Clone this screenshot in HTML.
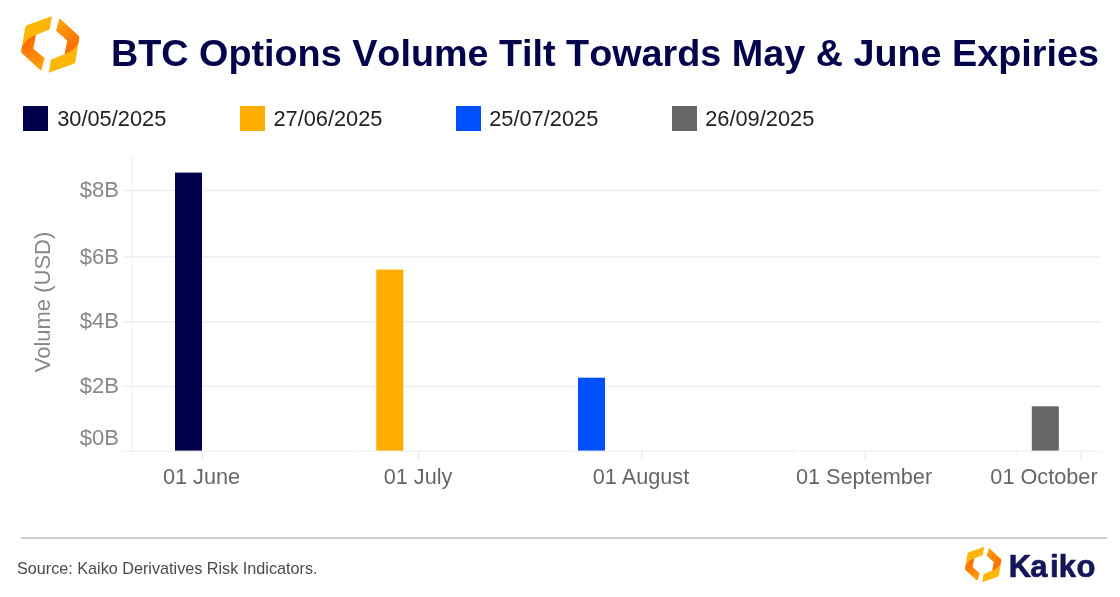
<!DOCTYPE html>
<html>
<head>
<meta charset="utf-8">
<title>BTC Options Volume Tilt Towards May &amp; June Expiries</title>
<style>
  html, body { margin: 0; padding: 0; background: #ffffff; }
  body { width: 1120px; height: 597px; position: relative; overflow: hidden;
         font-family: "Liberation Sans", Arial, Helvetica, sans-serif; }
  .abs { position: absolute; white-space: nowrap; line-height: 1; }
  #title { left: 111px; top: 34.5px; font-size: 37.75px; font-weight: bold; color: #04044c; letter-spacing: 0px; font-kerning: none; }
  .lg-sq { position: absolute; top: 105.8px; width: 25.3px; height: 25.3px; }
  .lg-tx { position: absolute; top: 106.5px; font-size: 21.8px; color: #222222; line-height: 24px; white-space: nowrap; }
  .ytick { position: absolute; left: 60px; width: 59px; text-align: right; font-size: 22px; color: #888888; line-height: 24px; }
  .xtick { position: absolute; top: 464.7px; font-size: 21.7px; color: #666666; line-height: 24px; white-space: nowrap; transform: translateX(-50%); }
  #ylabel { position: absolute; left: 42.5px; top: 301.9px; font-size: 22px; color: #888888; line-height: 24px; white-space: nowrap;
            transform: translate(-50%, -50%) rotate(-90deg); }
  #source { left: 17px; top: 560px; font-size: 16.2px; color: #4a4a4a; }
</style>
</head>
<body>

<!-- top-left logo -->
<svg class="abs" style="left:0;top:0" width="100" height="90" viewBox="0 0 100 90">
  <defs>
    <linearGradient id="gL" gradientUnits="userSpaceOnUse" x1="28" y1="40" x2="43" y2="66">
      <stop offset="0" stop-color="#ff6a00"/><stop offset="1" stop-color="#ff9f0c"/>
    </linearGradient>
    <linearGradient id="gR" gradientUnits="userSpaceOnUse" x1="57.5" y1="23" x2="72.5" y2="49">
      <stop offset="0" stop-color="#ff9f0c"/><stop offset="1" stop-color="#ff6a00"/>
    </linearGradient>
    <g id="klogo">
      <!-- left half -->
      <path d="M51.85,16.7 L49.8,29.4 L36.1,35.1 L33.4,48.4 L44.5,58.1 L41.1,70.2 L22.6,53.2 Q21.5,52.2 21.8,50.6 L25.6,27.6 Q25.9,25.8 27.6,25.2 Z" fill="#ffb60a"/>
      <path d="M36.1,35.1 Q28.5,37.5 22.6,46 L21.8,50.6 Q21.5,52.2 22.6,53.2 L41.1,70.2 L44.5,58.1 L33.4,48.4 Z" fill="url(#gL)"/>
      <!-- right half -->
      <path d="M48.75,72.3 L50.8,59.6 L64.5,53.9 L67.2,40.6 L56.1,30.9 L59.5,18.8 L78,35.8 Q79.1,36.8 78.8,38.4 L75,61.4 Q74.7,63.2 73,63.8 Z" fill="#ffb60a"/>
      <path d="M64.5,53.9 Q72.1,51.5 78,43 L78.8,38.4 Q79.1,36.8 78,35.8 L59.5,18.8 L56.1,30.9 L67.2,40.6 Z" fill="url(#gR)"/>
    </g>
  </defs>
  <g transform="translate(50.3,44.5) scale(1.015) translate(-50.3,-44.5)"><use href="#klogo"/></g>
</svg>

<div id="title" class="abs">BTC Options Volume Tilt Towards May &amp; June Expiries</div>

<!-- legend -->
<div class="lg-sq" style="left:23px;background:#00004b"></div><div class="lg-tx" style="left:57.2px">30/05/2025</div>
<div class="lg-sq" style="left:239.5px;background:#ffae00"></div><div class="lg-tx" style="left:273.4px">27/06/2025</div>
<div class="lg-sq" style="left:455.5px;background:#0050ff"></div><div class="lg-tx" style="left:489.2px">25/07/2025</div>
<div class="lg-sq" style="left:671.5px;background:#666666"></div><div class="lg-tx" style="left:705.2px">26/09/2025</div>

<!-- chart -->
<svg class="abs" style="left:0;top:0" width="1120" height="597" viewBox="0 0 1120 597">
  <g stroke="#eeeeee" stroke-width="1.5" fill="none">
    <line x1="122.5" y1="190.4" x2="1101" y2="190.4"/>
    <line x1="122.5" y1="256.9" x2="1101" y2="256.9"/>
    <line x1="122.5" y1="321.7" x2="1101" y2="321.7"/>
    <line x1="122.5" y1="386.6" x2="1101" y2="386.6"/>
  </g>
  <line x1="122.5" y1="451.3" x2="1101" y2="451.3" stroke="#efefef" stroke-width="1.1"/>
  <line x1="132" y1="157" x2="132" y2="455" stroke="#f1f1f1" stroke-width="1.2"/>
  <g stroke="#e8e8e8" stroke-width="1.2">
    <line x1="202.3" y1="451" x2="202.3" y2="459"/>
    <line x1="418.5" y1="451" x2="418.5" y2="459"/>
    <line x1="642" y1="451" x2="642" y2="459"/>
    <line x1="865.4" y1="451" x2="865.4" y2="459"/>
    <line x1="1081" y1="451" x2="1081" y2="459"/>
  </g>
  <g stroke="#f0f0f0" stroke-width="1">
    <line x1="353.7" y1="451" x2="353.7" y2="455"/>
    <line x1="569.8" y1="451" x2="569.8" y2="455"/>
    <line x1="793.3" y1="451" x2="793.3" y2="455"/>
    <line x1="1016.7" y1="451" x2="1016.7" y2="455"/>
  </g>
  <rect x="175" y="172.6" width="27" height="278" fill="#00004b"/>
  <rect x="376.3" y="269.6" width="27" height="181" fill="#ffae00"/>
  <rect x="578" y="377.7" width="27" height="72.9" fill="#0050ff"/>
  <rect x="1031.8" y="406.3" width="27" height="44.3" fill="#666666"/>
  <line x1="21" y1="538" x2="1107" y2="538" stroke="#bdbdbd" stroke-width="1.6"/>
</svg>

<div class="ytick" style="top:178.1px">$8B</div>
<div class="ytick" style="top:245.1px">$6B</div>
<div class="ytick" style="top:309.1px">$4B</div>
<div class="ytick" style="top:374.1px">$2B</div>
<div class="ytick" style="top:426.1px">$0B</div>
<div id="ylabel">Volume (USD)</div>

<div class="xtick" style="left:201.5px">01 June</div>
<div class="xtick" style="left:418px">01 July</div>
<div class="xtick" style="left:641px">01 August</div>
<div class="xtick" style="left:864px">01 September</div>
<div class="xtick" style="left:1044px">01 October</div>

<div id="source" class="abs">Source: Kaiko Derivatives Risk Indicators.</div>

<!-- bottom-right logo -->
<svg class="abs" style="left:950px;top:540px" width="60" height="50" viewBox="0 0 60 50">
  <g transform="translate(33.2,24.5) scale(0.636) translate(-50.3,-44.5)"><use href="#klogo"/></g>
</svg>
<svg class="abs" style="left:1000px;top:540px" width="120" height="57" viewBox="1000 540 120 57">
  <text x="1008.7 1030.2 1049.9 1058.8 1076.6" y="576.6" font-family="Liberation Sans, Arial, sans-serif" font-weight="bold" font-size="31" fill="#15155a" stroke="#15155a" stroke-width="0.7" stroke-linejoin="round">Kaiko</text>
</svg>

</body>
</html>
